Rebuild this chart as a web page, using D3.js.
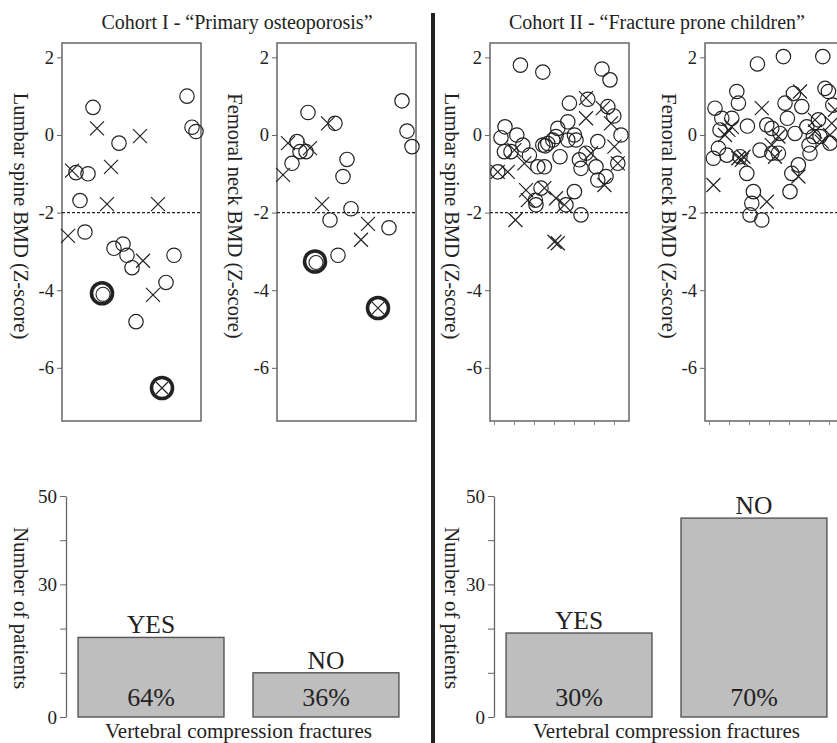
<!DOCTYPE html>
<html>
<head>
<meta charset="utf-8">
<script src="https://cdn.jsdelivr.net/npm/d3@7"></script>
<style>
  body { margin: 0; background: #fff; }
  svg text { font-family: "Liberation Serif", "Times New Roman", serif; fill: #222; }
</style>
</head>
<body>
<svg id="chart" width="837" height="743" font-family="Liberation Serif, serif"></svg>
<script>
// Cohort I - lumbar spine [position, Z-score]
const c1LumbarCircles = [[2.35,0.71],[1.5,-0.97],[2.1,-1.0],[1.7,-1.69],[1.95,-2.5],[3.65,-0.21],[3.4,-2.92],
  [3.85,-2.81],[4.05,-3.1],[4.3,-3.42],[6.4,-3.1],[6.0,-3.8],[4.5,-4.81],[7.05,1.0],[7.3,0.2],[7.5,0.09]]
const c1LumbarCrosses = [[1.1,-2.6],[1.3,-0.92],[2.55,0.17],[3.25,-0.82],[3.05,-1.78],[4.7,-0.03],[5.6,-1.78],
  [4.85,-3.24],[5.35,-4.12]]
const c1LumbarBold = [[2.8,-4.08]]
const c1LumbarBoldX = [[5.8,-6.52]]

// Cohort I - femoral neck
const c1FemurCircles = [[2.35,0.58],[3.7,0.3],[1.8,-0.17],[1.95,-0.43],[2.25,-0.43],[1.55,-0.73],[4.3,-0.63],
  [4.1,-1.07],[4.5,-1.9],[3.45,-2.19],[3.85,-3.1],[6.4,-2.39],[7.05,0.88],[7.3,0.1],[7.55,-0.3]]
const c1FemurCrosses = [[1.1,-1.03],[1.35,-0.21],[2.45,-0.34],[3.35,0.3],[3.05,-1.78],[5.35,-2.29],[5.0,-2.7]]
const c1FemurBold = [[2.7,-3.26]]
const c1FemurBoldX = [[5.85,-4.46]]

// Cohort II - lumbar spine
const c2LumbarCircles = [[2.32,1.8],[3.44,1.62],[6.4,1.7],[6.8,1.42],[4.77,0.82],[5.69,0.92],[6.69,0.73],[6.99,0.49],
  [7.35,0.0],[4.69,0.34],[1.55,0.21],[1.35,-0.07],[2.14,0.0],[2.44,-0.26],[4.19,0.17],[5.02,0.0],[3.94,-0.13],
  [3.69,-0.22],[3.57,-0.28],[6.19,-0.17],[1.52,-0.43],[1.85,-0.43],[2.77,-0.52],[1.19,-0.95],[3.19,-0.82],
  [3.52,-0.82],[4.3,-0.56],[5.27,-0.64],[5.35,-0.86],[5.6,-0.47],[6.1,-0.82],[6.19,-1.16],[6.6,-1.07],[7.19,-0.73],
  [3.35,-1.37],[3.07,-1.68],[3.1,-1.8],[5.02,-1.46],[4.6,-1.8],[5.35,-2.06],[4.1,-0.04],[5.1,-0.13],[4.69,-0.13],
  [3.44,-0.26]]
const c2LumbarCrosses = [[5.6,0.95],[5.6,0.43],[6.44,0.69],[6.85,0.3],[7.02,-0.3],[1.19,-0.95],[1.69,-0.95],
  [2.02,-0.39],[2.52,-0.73],[2.6,-1.42],[2.69,-1.68],[3.52,-1.37],[4.1,-1.63],[4.52,-1.8],[5.85,-0.47],
  [6.52,-1.29],[7.19,-0.73],[2.07,-2.19],[4.02,-2.75],[4.19,-2.79]]

// Cohort II - femoral neck
const c2FemurCircles = [[3.42,1.83],[4.72,2.02],[6.69,2.02],[2.39,1.12],[2.47,0.82],[1.3,0.69],[1.64,0.43],[2.14,0.43],
  [1.55,0.13],[2.92,0.23],[3.89,0.26],[4.8,0.82],[5.22,1.07],[5.64,0.73],[4.92,0.43],[5.3,0.04],[6.8,1.2],
  [6.97,1.12],[5.89,0.21],[6.22,-0.04],[6.47,0.39],[1.22,-0.6],[1.47,-0.34],[1.89,-0.52],[3.55,-0.39],[4.55,0.04],
  [4.14,-0.47],[4.47,-0.47],[2.89,-0.99],[3.22,-1.46],[3.14,-1.76],[3.05,-2.06],[3.64,-2.19],[5.05,-1.46],
  [5.14,-0.99],[5.47,-0.77],[6.05,-0.47],[6.0,-0.26],[6.55,-0.04],[7.05,-0.21],[2.55,-0.56],[4.14,0.17],[7.19,0.77]]
const c2FemurCrosses = [[3.64,0.69],[5.55,1.12],[1.22,-1.29],[1.8,0.0],[1.97,0.13],[2.14,0.21],[2.47,-0.6],
  [2.64,-0.64],[2.72,-0.56],[3.89,-1.72],[4.3,-0.56],[4.14,-0.26],[4.47,-0.04],[5.47,-1.07],[6.3,0.09],
  [6.64,-0.17],[7.05,0.0],[7.14,0.3],[6.3,0.39],[7.3,0.65]]

const zTicks = [2, 0, -2, -4, -6]
const posTicks = [1, 2, 3, 4, 5, 6, 7]

// bar charts
const fractureCats = ['YES', 'NO']
const c1Patients = [18, 10]
const c1Percent = ['64%', '36%']
const c2Patients = [19, 45]
const c2Percent = ['30%', '70%']
const patientTicks = [0, 10, 20, 30, 40, 50]
const patientLabels = [0, 30, 50]

const svg = d3.select('#chart')

// Escala Z-score
const yZ = d3.scaleLinear().domain([-7.37, 2.37]).range([421, 43])

const panels = [
  { left: 62, labX: 14, label: 'Lumbar spine BMD (Z-score)', circles: c1LumbarCircles, crosses: c1LumbarCrosses, bold: c1LumbarBold, boldX: c1LumbarBoldX, xticks: false },
  { left: 277, labX: 228, label: 'Femoral neck BMD (Z-score)', circles: c1FemurCircles, crosses: c1FemurCrosses, bold: c1FemurBold, boldX: c1FemurBoldX, xticks: false },
  { left: 490, labX: 445, label: 'Lumbar spine BMD (Z-score)', circles: c2LumbarCircles, crosses: c2LumbarCrosses, bold: [], boldX: [], xticks: true },
  { left: 705, labX: 662, label: 'Femoral neck BMD (Z-score)', circles: c2FemurCircles, crosses: c2FemurCrosses, bold: [], boldX: [], xticks: true }
]

const crossPath = (x, y, s) => `M${x-s},${y-s}L${x+s},${y+s}M${x-s},${y+s}L${x+s},${y-s}`

panels.forEach(p => {
  const xS = d3.scaleLinear().domain([0.8, 7.75]).range([p.left, p.left + 139])
  const g = svg.append('g')

  g.append('rect')
    .attr('x', p.left).attr('y', 43)
    .attr('width', 139).attr('height', 378)
    .attr('fill', 'none').attr('stroke', '#666').attr('stroke-width', 1.5)

  // linea de referencia -2
  g.append('line')
    .attr('x1', p.left).attr('x2', p.left + 139)
    .attr('y1', yZ(-2)).attr('y2', yZ(-2))
    .attr('stroke', '#222').attr('stroke-width', 1.3).attr('stroke-dasharray', '3,2')

  const yAxis = g.append('g')
    .attr('transform', `translate(${p.left},0)`)
    .call(d3.axisLeft(yZ).tickValues(zTicks).tickSize(5).tickPadding(3).tickFormat(d => String(d)))
    .attr('font-family', null).attr('font-size', null)
  yAxis.select('.domain').remove()
  yAxis.selectAll('line').attr('stroke', '#666')
  yAxis.selectAll('text').attr('font-size', '18.5px').attr('fill', '#222')

  if (p.xticks) {
    const xAxis = g.append('g')
      .attr('transform', 'translate(0,420)')
      .call(d3.axisBottom(xS).tickValues(posTicks).tickSize(5).tickFormat(''))
    xAxis.select('.domain').remove()
    xAxis.selectAll('line').attr('stroke', '#888')
  }

  g.append('text')
    .text(p.label)
    .attr('text-anchor', 'middle')
    .attr('transform', `translate(${p.labX}, 216) rotate(90)`)
    .attr('font-size', '20.5px')

  const marks = g.append('g').attr('fill', 'none').attr('stroke', '#222')

  marks.selectAll('circle.reg')
    .data(p.circles)
    .join('circle')
    .attr('class', 'reg')
    .attr('cx', d => xS(d[0])).attr('cy', d => yZ(d[1]))
    .attr('r', 7.2).attr('stroke-width', 1.2)

  marks.selectAll('path.cross')
    .data(p.crosses)
    .join('path')
    .attr('class', 'cross')
    .attr('d', d => crossPath(xS(d[0]), yZ(d[1]), 7))
    .attr('stroke-width', 1.2)

  // bold circles with an inner thin circle
  p.bold.forEach(d => {
    marks.append('circle')
      .attr('cx', xS(d[0]) + 1).attr('cy', yZ(d[1]) + 1)
      .attr('r', 7).attr('stroke-width', 1.1)
    marks.append('circle')
      .attr('cx', xS(d[0])).attr('cy', yZ(d[1]))
      .attr('r', 10.5).attr('stroke-width', 3.6)
  })

  p.boldX.forEach(d => {
    marks.append('circle')
      .attr('cx', xS(d[0])).attr('cy', yZ(d[1]))
      .attr('r', 10.5).attr('stroke-width', 3.6)
    marks.append('path')
      .attr('d', crossPath(xS(d[0]), yZ(d[1]), 6))
      .attr('stroke-width', 1.2)
  })
})

// titulos
svg.append('text')
  .text('Cohort I - “Primary osteoporosis”')
  .attr('x', 237).attr('y', 29)
  .attr('text-anchor', 'middle')
  .attr('font-size', '20px')

svg.append('text')
  .text('Cohort II - “Fracture prone children”')
  .attr('x', 657).attr('y', 29)
  .attr('text-anchor', 'middle')
  .attr('font-size', '20px')

// divisor
svg.append('line')
  .attr('x1', 433).attr('x2', 433)
  .attr('y1', 13).attr('y2', 743)
  .attr('stroke', '#222').attr('stroke-width', 4)

// Barras
const yN = d3.scaleLinear().domain([0, 50]).range([717, 496])

const barCharts = [
  { axisX: 66, labX: 14, values: c1Patients, pct: c1Percent },
  { axisX: 494, labX: 445, values: c2Patients, pct: c2Percent }
]

barCharts.forEach(b => {
  const xB = d3.scaleBand()
    .domain(fractureCats)
    .range([b.axisX, b.axisX + 345])
    .paddingInner(0.166)
    .paddingOuter(0.069)

  const g = svg.append('g')

  const ax = g.append('g')
    .attr('transform', `translate(${b.axisX},0)`)
    .call(d3.axisLeft(yN).tickValues(patientTicks).tickSize(6).tickSizeOuter(0).tickPadding(3)
      .tickFormat(d => patientLabels.includes(d) ? d : ''))
    .attr('font-family', null).attr('font-size', null)
  ax.select('.domain').attr('stroke', '#666').attr('stroke-width', 1.3)
  ax.selectAll('line').attr('stroke', '#666')
  ax.selectAll('text').attr('font-size', '19px').attr('fill', '#222')

  const rows = fractureCats.map((c, i) => ({ cat: c, n: b.values[i], pct: b.pct[i] }))

  g.selectAll('rect')
    .data(rows)
    .join('rect')
    .attr('x', d => xB(d.cat))
    .attr('y', d => yN(d.n))
    .attr('width', xB.bandwidth())
    .attr('height', d => yN(0) - yN(d.n))
    .attr('fill', '#bebebe')
    .attr('stroke', '#555')
    .attr('stroke-width', 1.4)

  g.selectAll('text.cat')
    .data(rows)
    .join('text')
    .attr('class', 'cat')
    .text(d => d.cat)
    .attr('x', d => xB(d.cat) + xB.bandwidth() / 2)
    .attr('y', d => yN(d.n) - 4)
    .attr('text-anchor', 'middle')
    .attr('font-size', '25.5px')

  g.selectAll('text.pct')
    .data(rows)
    .join('text')
    .attr('class', 'pct')
    .text(d => d.pct)
    .attr('x', d => xB(d.cat) + xB.bandwidth() / 2)
    .attr('y', yN(0) - 11)
    .attr('text-anchor', 'middle')
    .attr('font-size', '26px')

  g.append('text')
    .text('Number of patients')
    .attr('text-anchor', 'middle')
    .attr('transform', `translate(${b.labX}, 608) rotate(90)`)
    .attr('font-size', '21px')

  g.append('text')
    .text('Vertebral compression fractures')
    .attr('x', (xB('YES') + xB('NO') + xB.bandwidth()) / 2)
    .attr('y', 738)
    .attr('text-anchor', 'middle')
    .attr('font-size', '21px')
})
</script>
</body>
</html>
